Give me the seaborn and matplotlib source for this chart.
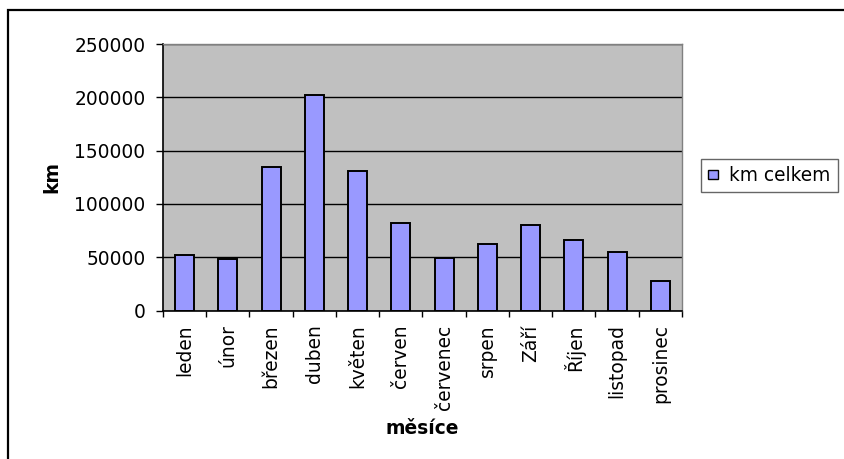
import unicodedata
import matplotlib
matplotlib.use("Agg")
import matplotlib.pyplot as plt
from matplotlib.patches import Patch, Rectangle
from matplotlib.ticker import FixedLocator, NullFormatter
import seaborn as sns
import pandas as pd

# Monthly distance totals
mesice = ["leden", "únor", "březen", "duben", "květen", "červen",
          "červenec", "srpen", "Září", "Říjen", "listopad", "prosinec"]
km_celkem = [52000, 48000, 135000, 202000, 130500, 82000,
             49000, 62500, 80500, 66500, 55000, 28000]
serie = "km celkem"

y_ticks = [0, 50000, 100000, 150000, 200000, 250000]

# use precomposed characters so accents render as single glyphs
mesice = [unicodedata.normalize("NFC", m) for m in mesice]

df = pd.DataFrame({"mesic": mesice, "km": km_celkem})

font = ["DejaVu Sans"]
plt.rcParams["font.family"] = font
fs = 13.4

fig = plt.figure(figsize=(8.44, 4.59), dpi=100)
ax = fig.add_axes([0.1931, 0.3235, 0.6149, 0.5806])

bar_color = "#9999FF"
sns.barplot(data=df, x="mesic", y="km", color=bar_color, ax=ax,
            width=0.44, edgecolor="black", linewidth=1.4, saturation=1)

ax.set_facecolor("#C0C0C0")
ax.set_ylim(0, 250000)
ax.set_xlim(-0.5, len(mesice) - 0.5)
ax.set_yticks(y_ticks)
ax.set_yticklabels([str(v) for v in y_ticks], fontsize=fs)
ax.yaxis.grid(True, color="black", linewidth=1.0)
ax.set_axisbelow(True)

# category labels at centers, tick marks at category boundaries
ax.set_xticks(range(len(mesice)))
ax.set_xticklabels(mesice, rotation=90, fontsize=fs)
ax.tick_params(axis="x", which="major", length=0, pad=10)
ax.xaxis.set_minor_locator(FixedLocator([i - 0.5 for i in range(len(mesice) + 1)]))
ax.xaxis.set_minor_formatter(NullFormatter())
ax.tick_params(axis="x", which="minor", length=4.5, width=1, color="black")
ax.tick_params(axis="y", length=5, width=1, color="black", pad=7.5)

for side in ["top", "right"]:
    ax.spines[side].set_color("#808080")
    ax.spines[side].set_linewidth(1.0)
for side in ["left", "bottom"]:
    ax.spines[side].set_color("black")
    ax.spines[side].set_linewidth(1.2)

ax.set_xlabel("měsíce", fontsize=fs, fontweight="bold", labelpad=7)
ax.set_ylabel("km", fontsize=fs, fontweight="bold", labelpad=9)

leg = fig.legend(handles=[Patch(facecolor=bar_color, edgecolor="black",
                                linewidth=1.0, label=serie)],
                 loc="upper left", bbox_to_anchor=(0.8305, 0.6545),
                 fontsize=fs, frameon=True, fancybox=False, shadow=False,
                 handlelength=0.5, handleheight=0.42, handletextpad=0.6,
                 borderpad=0.4, borderaxespad=0)
leg.get_frame().set_edgecolor("#404040")
leg.get_frame().set_linewidth(1.0)

# chart area border
fig.patches.append(Rectangle((0.0095, -0.1), 1.2, 1.078, transform=fig.transFigure,
                             fill=False, edgecolor="black", linewidth=1.6,
                             zorder=-1))

fig.savefig("out.png", dpi=100, facecolor="white")
